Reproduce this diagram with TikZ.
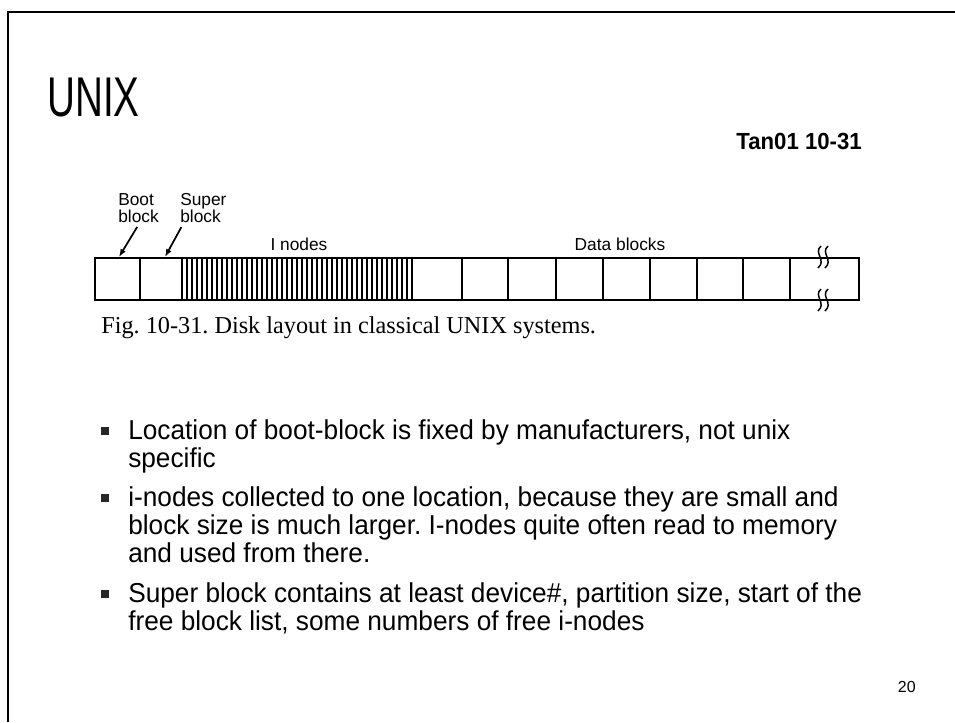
\documentclass[tikz,border=0pt]{standalone}
\usepackage{fontspec}
\setmainfont{Liberation Sans}
\newfontfamily\capfont{Liberation Serif}
\newfontfamily\bodyfont[FakeStretch=0.96]{Liberation Sans}
\newfontfamily\tagfont[FakeStretch=0.95]{Liberation Sans}
\newfontfamily\titlefont[FakeStretch=0.69]{Liberation Sans}
\usepackage{tikz}
\usetikzlibrary{arrows.meta}
\frenchspacing

\begin{document}
\begin{tikzpicture}[x=0.75pt,y=-0.75pt,
  blocklabel/.style={inner sep=0pt, align=left, font=\fontsize{13}{13}\selectfont},
  bullettext/.style={anchor=base west, inner sep=0pt, align=left, font=\bodyfont\fontsize{20.5}{21}\selectfont},
  bulletmark/.style={fill=black!85, minimum size=6.6pt, inner sep=0pt},
  cell/.style={line width=1.1pt},
  pointer/.style={-{Latex[length=6pt,width=4.5pt]}, line width=1.3pt}]
\useasboundingbox (0,0) rectangle (955,722);

% Slide frame
\draw[line width=1.5pt] (8,722) -- (8,12) -- (955,12);

% Title and source
\node[anchor=base west, inner sep=0pt, font=\titlefont\fontsize{42}{42}\selectfont] (title) at (47,116) {UNIX};
\node[anchor=base east, inner sep=0pt, font=\tagfont\bfseries\fontsize{17.5}{17.5}\selectfont] (source) at (862,149) {Tan01 10-31};

% Disk layout
\draw[cell] (95,258) rectangle (859,300);
\foreach \x in {140,182,412,462,508,556,603,650,697,743,790}
  \draw[cell] (\x,258) -- (\x,300);
\foreach \k in {1,...,45}
  \draw[line width=0.8pt] (182+5*\k,258) -- (182+5*\k,300);

% Break marks
\foreach \y in {246,289} {
  \foreach \dx in {0,7}
    \draw[line width=1.1pt] (821+\dx,\y) .. controls (813+\dx,\y+7) and (827+\dx,\y+14) .. (818+\dx,\y+22);
}

% Labels
\node[blocklabel, anchor=north west] (boot) at (118,193) {Boot\\block};
\node[blocklabel, anchor=north west] (super) at (180,193) {Super\\block};
\node[blocklabel, anchor=base] (inodes) at (299,250) {I nodes};
\node[blocklabel, anchor=base] (data) at (620,250) {Data blocks};
\coordinate (bootblk) at (119,257);
\coordinate (superblk) at (165,257);
\draw[pointer] ([xshift=-1pt,yshift=-3pt]boot.south) -- (bootblk);
\draw[pointer] ([xshift=1pt,yshift=-3pt]super.south west) -- (superblk);

% Caption
\node[anchor=base west, inner sep=0pt, font=\capfont\fontsize{18.2}{18}\selectfont] (caption) at (101,333) {Fig. 10-31. Disk layout in classical UNIX systems.};

% Bullets
\node[bullettext] (itemA) at (128,467) {Location of boot-block is fixed by manufacturers, not unix\\specific};
\node[bullettext] (itemB) at (128,562) {i-nodes collected to one location, because they are small and\\block size is much larger. I-nodes quite often read to memory\\and used from there.};
\node[bullettext] (itemC) at (128,630) {Super block contains at least device\#, partition size, start of the\\free block list, some numbers of free i-nodes};
\node[bulletmark] (markA) at (105,431) {};
\node[bulletmark] (markB) at (105,498) {};
\node[bulletmark] (markC) at (105,594) {};

% Page number
\node[anchor=base east, inner sep=0pt, font=\fontsize{12}{12}\selectfont] (page) at (916,692) {20};
\end{tikzpicture}
\end{document}
